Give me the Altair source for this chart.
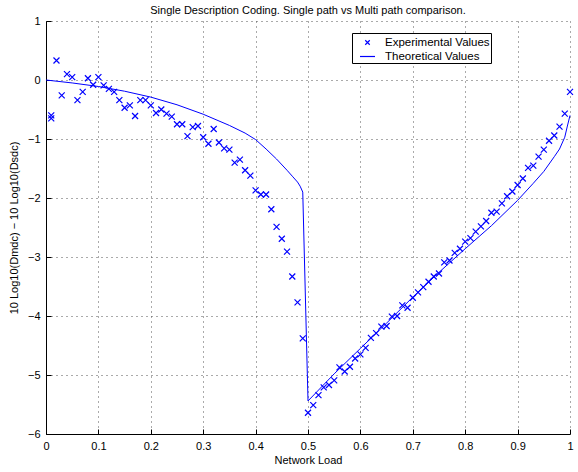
import altair as alt
import pandas as pd

# ---------------- data ----------------
exp_load = [0.01, 0.01, 0.02, 0.03, 0.04, 0.05, 0.06, 0.07, 0.08, 0.09, 0.10,
            0.11, 0.12, 0.13, 0.14, 0.15, 0.16, 0.17, 0.18, 0.19, 0.20,
            0.21, 0.22, 0.23, 0.24, 0.25, 0.26, 0.27, 0.28, 0.29, 0.30,
            0.31, 0.32, 0.33, 0.34, 0.35, 0.36, 0.37, 0.38, 0.39, 0.40,
            0.41, 0.42, 0.43, 0.44, 0.45, 0.46, 0.47, 0.48, 0.49, 0.50,
            0.51, 0.52, 0.53, 0.54, 0.55, 0.56, 0.57, 0.58, 0.59, 0.60,
            0.61, 0.62, 0.63, 0.64, 0.65, 0.66, 0.67, 0.68, 0.69, 0.70,
            0.71, 0.72, 0.73, 0.74, 0.75, 0.76, 0.77, 0.78, 0.79, 0.80,
            0.81, 0.82, 0.83, 0.84, 0.85, 0.86, 0.87, 0.88, 0.89, 0.90,
            0.91, 0.92, 0.93, 0.94, 0.95, 0.96, 0.97, 0.98, 0.99, 1.00]
exp_value = [-0.60, -0.65, 0.33, -0.26, 0.10, 0.05, -0.34, -0.20, 0.03, -0.08, 0.05,
             -0.09, -0.15, -0.20, -0.34, -0.47, -0.43, -0.61, -0.34, -0.34, -0.43,
             -0.56, -0.50, -0.57, -0.62, -0.75, -0.75, -0.95, -0.80, -0.78, -0.97,
             -1.08, -0.83, -1.06, -1.16, -1.18, -1.40, -1.35, -1.53, -1.62, -1.87,
             -1.94, -1.94, -2.19, -2.49, -2.69, -2.91, -3.33, -3.77, -4.38, -5.64,
             -5.51, -5.34, -5.21, -5.17, -5.09, -4.87, -4.94, -4.86, -4.72, -4.65,
             -4.54, -4.37, -4.29, -4.18, -4.17, -4.01, -4.00, -3.82, -3.86, -3.69,
             -3.60, -3.51, -3.42, -3.33, -3.28, -3.09, -3.06, -2.93, -2.86, -2.74,
             -2.68, -2.57, -2.48, -2.39, -2.25, -2.23, -2.09, -1.97, -1.89, -1.78,
             -1.67, -1.49, -1.45, -1.30, -1.18, -1.03, -0.94, -0.79, -0.57, -0.20]

theory_load = [0.00, 0.05, 0.10, 0.15, 0.20, 0.25, 0.30, 0.35, 0.38, 0.40,
               0.42, 0.44, 0.46, 0.47, 0.48, 0.485, 0.49, 0.50,
               0.55, 0.60, 0.65, 0.70, 0.75, 0.80, 0.85, 0.90, 0.93, 0.95,
               0.97, 0.98, 0.99, 0.995, 1.00]
theory_value = [0.00, -0.05, -0.11, -0.19, -0.29, -0.42, -0.58, -0.77, -0.90, -1.01,
                -1.17, -1.34, -1.53, -1.63, -1.73, -1.80, -1.90, -5.44,
                -4.98, -4.55, -4.12, -3.68, -3.26, -2.86, -2.47, -2.04, -1.75, -1.55,
                -1.30, -1.17, -0.97, -0.78, -0.60]

series_names = ["Experimental Values", "Theoretical Values"]
x_ticks = [0, 0.1, 0.2, 0.3, 0.4, 0.5, 0.6, 0.7, 0.8, 0.9, 1]
y_ticks = [-6, -5, -4, -3, -2, -1, 0, 1]

title_text = "Single Description Coding. Single path vs Multi path comparison."
x_title = "Network Load"
y_title = "10 Log10(Dmdc) \u2212 10 Log10(Dsdc)"

# ---------------- chart ----------------
FONT = "Liberation Sans"
BLUE = "#0000ff"
XPATH = "M-0.3,-0.3L0.3,0.3M-0.3,0.3L0.3,-0.3"
W, H = 524, 413

df_exp = pd.DataFrame({"load": exp_load, "value": exp_value, "series": series_names[0]})
df_th = pd.DataFrame({"load": theory_load, "value": theory_value, "series": series_names[1]})

x_scale = alt.Scale(domain=[0, 1], nice=False, zero=False)
y_scale = alt.Scale(domain=[-6, 1], nice=False, zero=False)
color_scale = alt.Scale(domain=series_names, range=[BLUE, BLUE])
shape_scale = alt.Scale(domain=series_names, range=[XPATH, "stroke"])

legend = alt.Legend(orient="none", legendX=306, legendY=12, title=None)

main_x_axis = alt.Axis(orient="bottom", values=x_ticks, format="~g", grid=True, gridColor="#555",
                       gridDash=[1, 4], gridWidth=1, domainColor="black", domainWidth=1,
                       ticks=False, labelPadding=6, labelFlush=False,
                       title=x_title, titlePadding=3)
main_y_axis = alt.Axis(orient="left", values=y_ticks, grid=True, gridColor="#555",
                       gridDash=[1, 4], gridWidth=1, domainColor="black", domainWidth=1,
                       ticks=False, labelPadding=6, labelFlush=False,
                       title=y_title, titlePadding=8)
inner_x_axis = alt.Axis(orient="top", offset=-H, values=x_ticks, grid=False, domain=False,
                        labels=False, ticks=True, tickSize=5, tickColor="black", title=None)
inner_y_axis = alt.Axis(orient="right", offset=-W, values=y_ticks, grid=False, domain=False,
                        labels=False, ticks=True, tickSize=5, tickColor="black", title=None)

points = alt.Chart(df_exp).mark_point(filled=False, size=400, strokeWidth=1.2, opacity=1).encode(
    x=alt.X("load:Q", scale=x_scale, axis=main_x_axis),
    y=alt.Y("value:Q", scale=y_scale, axis=main_y_axis),
    color=alt.Color("series:N", scale=color_scale, legend=legend),
    shape=alt.Shape("series:N", scale=shape_scale, legend=legend),
)

line = alt.Chart(df_th).mark_line(strokeWidth=1).encode(
    x=alt.X("load:Q", scale=x_scale, axis=inner_x_axis),
    y=alt.Y("value:Q", scale=y_scale, axis=inner_y_axis),
    color=alt.Color("series:N", scale=color_scale, legend=legend),
)

chart = alt.layer(points, line).resolve_axis(x="independent", y="independent").properties(
    width=W, height=H,
    title=alt.TitleParams(title_text, fontSize=11, font=FONT, fontWeight="normal",
                          color="black", anchor="middle", frame="group", offset=-1),
    autosize=alt.AutoSizeParams(type="none"),
    padding={"left": 46, "top": 21, "right": 8, "bottom": 38},
    background="white",
).configure_view(stroke=None).configure_axis(
    labelFont=FONT, labelFontSize=11, labelColor="black",
    titleFont=FONT, titleFontSize=11, titleFontWeight="normal", titleColor="black",
).configure_legend(
    strokeColor="black", fillColor="white", padding=1, cornerRadius=0,
    symbolSize=225, symbolStrokeWidth=1.2, labelFont=FONT, labelFontSize=11.5,
    labelColor="black", labelOffset=9, rowPadding=-1, symbolOffset=6,
)

chart.save("out.html", embed_options={"renderer": "svg", "actions": False})
